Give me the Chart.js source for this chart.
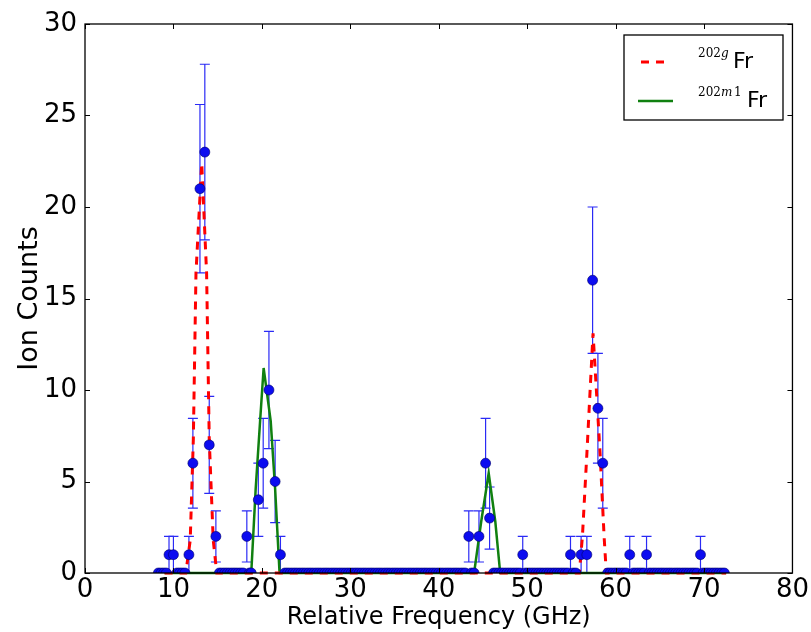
<!DOCTYPE html>
<html>
<head>
<meta charset="utf-8">
<script src="https://cdn.jsdelivr.net/npm/chart.js@4.4.1/dist/chart.umd.min.js"></script>
<style>
  html, body { margin: 0; padding: 0; background: #fff; }
  #wrap { width: 811px; height: 632px; }
</style>
</head>
<body>
<div id="wrap"><canvas id="chart" width="811" height="632"></canvas></div>
<script>
// measured points with counts (GHz, ion counts, error)
const peakFreq   = [9.5, 10.0, 11.75, 12.2, 13.0, 13.55, 14.05, 14.8, 18.3, 19.6, 20.15, 20.8, 21.5, 22.1,
                    43.4, 44.55, 45.3, 45.75, 49.5, 54.9, 56.1, 56.75, 57.4, 58.0, 58.55, 61.6, 63.5, 69.6];
const peakCounts = [1, 1, 1, 6, 21, 23, 7, 2, 2, 4, 6, 10, 5, 1,
                    2, 2, 6, 3, 1, 1, 1, 1, 16, 9, 6, 1, 1, 1];
const peakErrors = [1, 1, 1, 2.45, 4.6, 4.8, 2.65, 1.4, 1.4, 2, 2.45, 3.2, 2.25, 1,
                    1.4, 1.4, 2.45, 1.7, 1, 1, 1, 1, 4, 3, 2.45, 1, 1, 1];

// scan steps with no counts
const zeroFreq = [8.3, 8.6, 8.9, 9.2, 10.4, 10.7, 11.0, 11.3,
                  15.2, 15.5, 15.8, 16.1, 16.4, 16.7, 17.0, 17.3, 17.6, 17.9, 18.6, 18.8,
                  22.6, 22.9, 23.2, 23.5, 23.8, 24.1, 24.4, 24.7, 25.0, 25.3, 25.6, 25.9, 26.2, 26.5,
                  26.8, 27.1, 27.4, 27.7, 28.0, 28.3, 28.6, 28.9, 29.2, 29.5, 29.8, 30.1, 30.4, 30.7,
                  31.0, 31.3, 31.6, 31.9, 32.2, 32.5, 32.8, 33.1, 33.4, 33.7, 34.0, 34.3, 34.6, 34.9,
                  35.2, 35.5, 35.8, 36.1, 36.4, 36.7, 37.0, 37.3, 37.6, 37.9, 38.2, 38.5, 38.8, 39.1,
                  39.4, 39.7, 40.0, 40.3, 40.6, 40.9, 41.2, 41.5, 41.8, 42.1, 42.4, 42.7, 43.0, 43.7, 44.0,
                  46.2, 46.5, 46.8, 47.1, 47.4, 47.7, 48.0, 48.3, 48.6, 48.9, 49.2, 49.8, 50.1, 50.4,
                  50.7, 51.0, 51.3, 51.6, 51.9, 52.2, 52.5, 52.8, 53.1, 53.4, 53.7, 54.0, 54.3, 54.6,
                  55.2, 55.5,
                  59.1, 59.4, 59.7, 60.0, 60.3, 60.6, 60.9, 61.2, 62.0, 62.3, 62.6, 62.9, 63.2, 63.8,
                  64.1, 64.4, 64.7, 65.0, 65.3, 65.6, 65.9, 66.2, 66.5, 66.8, 67.1, 67.4, 67.7, 68.0,
                  68.3, 68.6, 68.9, 69.2, 69.9, 70.2, 70.5, 70.8, 71.1, 71.4, 71.7, 72.0, 72.3];

// fits
const groundFreq   = [9.0, 11.4, 11.9, 12.25, 12.55, 13.2, 13.75, 14.05, 14.5, 14.9,
                      55.9, 56.25, 56.75, 57.45, 58.25, 58.7, 58.95, 72.5];
const groundCounts = [0, 0, 1.8, 7.3, 16.4, 22.4, 16.4, 7.3, 1.8, 0,
                      0, 2, 6.5, 13.1, 6.5, 2, 0, 0];
const isomerFreq   = [9.0, 18.8, 19.3, 19.8, 20.2, 21.0, 21.5, 22.0,
                      44.0, 44.8, 45.65, 46.4, 46.95, 72.5];
const isomerCounts = [0, 0, 4.6, 8.3, 11.2, 8.3, 4.6, 0,
                      0, 2.8, 5.45, 2.8, 0, 0];

const xTicks = [0, 10, 20, 30, 40, 50, 60, 70, 80];
const yTicks = [0, 5, 10, 15, 20, 25, 30];

const measured = peakFreq.map((f, i) => ({x: f, y: peakCounts[i], err: peakErrors[i]}))
    .concat(zeroFreq.map(f => ({x: f, y: 0, err: 0})));

const errorBars = {
    id: 'errorBars',
    beforeDatasetsDraw(chart) {
        const {ctx, chartArea, scales} = chart;
        ctx.save();
        ctx.beginPath();
        ctx.rect(chartArea.left, chartArea.top, chartArea.right - chartArea.left, chartArea.bottom - chartArea.top);
        ctx.clip();
        ctx.strokeStyle = '#2a2af5';
        ctx.lineWidth = 1.2;
        measured.forEach(p => {
            if (!p.err) return;
            const px = scales.x.getPixelForValue(p.x);
            const top = scales.y.getPixelForValue(p.y + p.err);
            const bot = scales.y.getPixelForValue(p.y - p.err);
            ctx.beginPath();
            ctx.moveTo(px, top); ctx.lineTo(px, bot);
            ctx.moveTo(px - 5, top); ctx.lineTo(px + 5, top);
            ctx.moveTo(px - 5, bot); ctx.lineTo(px + 5, bot);
            ctx.stroke();
        });
        ctx.restore();
    }
};

const frame = {
    id: 'frame',
    afterDraw(chart) {
        const {ctx, chartArea: a, scales: {x, y}} = chart;
        ctx.save();
        ctx.strokeStyle = '#000';
        ctx.lineWidth = 1.3;
        ctx.strokeRect(a.left, a.top, a.right - a.left, a.bottom - a.top);
        ctx.lineWidth = 1;
        ctx.beginPath();
        xTicks.forEach(v => {
            const px = Math.round(x.getPixelForValue(v)) + 0.5;
            ctx.moveTo(px, a.bottom); ctx.lineTo(px, a.bottom - 5);
            ctx.moveTo(px, a.top); ctx.lineTo(px, a.top + 5);
        });
        yTicks.forEach(v => {
            const py = Math.round(y.getPixelForValue(v)) + 0.5;
            ctx.moveTo(a.left, py); ctx.lineTo(a.left + 5, py);
            ctx.moveTo(a.right, py); ctx.lineTo(a.right - 5, py);
        });
        ctx.stroke();

        // legend
        const lx = 624, ly = 35, lw = 159, lh = 85;
        ctx.fillStyle = '#fff';
        ctx.fillRect(lx, ly, lw, lh);
        ctx.strokeStyle = '#000';
        ctx.lineWidth = 1.3;
        ctx.strokeRect(lx, ly, lw, lh);

        ctx.strokeStyle = '#ff0000';
        ctx.lineWidth = 3;
        ctx.setLineDash([8, 7]);
        ctx.beginPath(); ctx.moveTo(641, 62); ctx.lineTo(670, 62); ctx.stroke();
        ctx.setLineDash([]);
        ctx.strokeStyle = '#108010';
        ctx.lineWidth = 2.5;
        ctx.beginPath(); ctx.moveTo(638, 101); ctx.lineTo(673, 101); ctx.stroke();

        ctx.fillStyle = '#000';
        ctx.textBaseline = 'alphabetic';
        ctx.textAlign = 'left';
        ctx.font = '12px "DejaVu Serif"';
        ctx.fillText('202', 698, 57);
        ctx.font = 'italic 12px "DejaVu Serif"';
        ctx.fillText('g', 721, 57);
        ctx.font = '22px "DejaVu Sans"';
        ctx.fillText('Fr', 733, 68);

        ctx.font = '12px "DejaVu Serif"';
        ctx.fillText('202', 698, 96);
        ctx.font = 'italic 12px "DejaVu Serif"';
        ctx.fillText('m', 721, 96);
        ctx.font = '12px "DejaVu Serif"';
        ctx.fillText('1', 734, 96);
        ctx.font = '22px "DejaVu Sans"';
        ctx.fillText('Fr', 747, 107);
        ctx.restore();
    }
};

Chart.defaults.font.family = '"DejaVu Sans", sans-serif';
Chart.defaults.color = '#000';

new Chart(document.getElementById('chart'), {
    type: 'scatter',
    data: {
        datasets: [
            {
                label: 'data',
                data: measured,
                backgroundColor: '#0c0cf0',
                borderColor: '#00006a',
                borderWidth: 0.6,
                pointRadius: 5,
                showLine: false,
                order: 0
            },
            {
                label: '202g Fr',
                data: groundFreq.map((f, i) => ({x: f, y: groundCounts[i]})),
                showLine: true,
                borderColor: '#ff0000',
                borderWidth: 3,
                borderDash: [8, 7],
                pointRadius: 0,
                tension: 0,
                clip: 3,
                order: 1
            },
            {
                label: '202m1 Fr',
                data: isomerFreq.map((f, i) => ({x: f, y: isomerCounts[i]})),
                showLine: true,
                borderColor: '#108010',
                borderWidth: 2.5,
                pointRadius: 0,
                tension: 0,
                clip: 3,
                order: 2
            }
        ]
    },
    options: {
        responsive: false,
        animation: false,
        devicePixelRatio: 1,
        layout: { padding: { top: 24, right: 18, left: 0, bottom: 0 } },
        plugins: {
            legend: { display: false },
            tooltip: { enabled: false }
        },
        scales: {
            x: {
                type: 'linear',
                min: 0, max: 80,
                afterFit: s => { s.height = 59; },
                afterBuildTicks: s => { s.ticks = xTicks.map(v => ({value: v})); },
                grid: { display: false, drawTicks: false },
                border: { display: false },
                ticks: { font: { size: 26 }, padding: 2, maxRotation: 0 },
                title: { display: true, text: 'Relative Frequency (GHz)', font: { size: 24 }, padding: 0 }
            },
            y: {
                type: 'linear',
                min: 0, max: 30,
                afterFit: s => { s.width = 85; },
                afterBuildTicks: s => { s.ticks = yTicks.map(v => ({value: v})); },
                grid: { display: false, drawTicks: false },
                border: { display: false },
                ticks: { font: { size: 26 }, padding: 8 },
                title: { display: true, text: 'Ion Counts', font: { size: 27 }, padding: { top: 14, bottom: 0 } }
            }
        }
    },
    plugins: [errorBars, frame]
});
</script>
</body>
</html>
